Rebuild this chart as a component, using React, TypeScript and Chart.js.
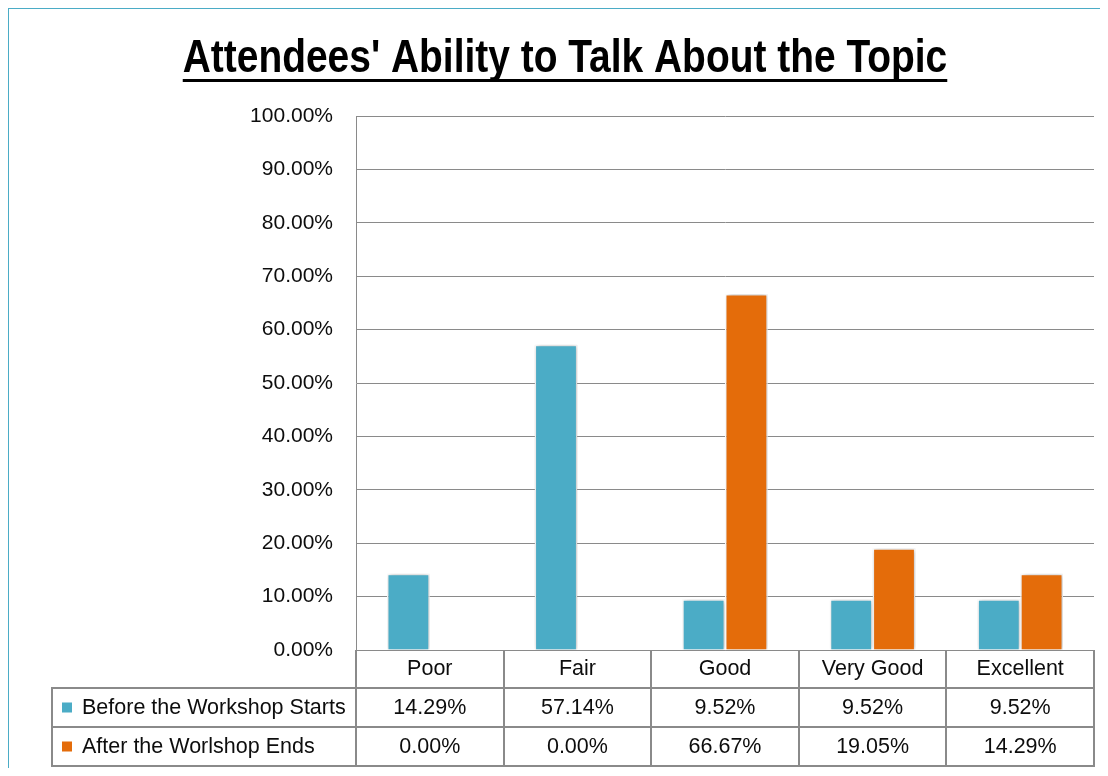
import React, { useEffect, useRef } from 'react';
import { Chart, registerables } from 'chart.js';

Chart.register(...registerables);

const TITLE = "Attendees' Ability to Talk About the Topic";
const categories = ['Poor', 'Fair', 'Good', 'Very Good', 'Excellent'];
const seriesNames = ['Before the Workshop Starts', 'After the Worlshop Ends'];
const beforeValues = [14.29, 57.14, 9.52, 9.52, 9.52];
const afterValues = [0, 0, 66.67, 19.05, 14.29];
const seriesColors = ['#4BACC6', '#E46C0A'];
const yMin = 0;
const yMax = 100;
const yStep = 10;

const FONT = "'Liberation Sans', Arial, Helvetica, sans-serif";
const GRID = '#8a8a8a';
const TEXT = '#0d0d0d';
const fmt = (v: number) => v.toFixed(2) + '%';

// Title: tall, horizontally condensed bold text with an underline
const titlePlugin = {
  id: 'condensedTitle',
  afterDraw(chart: any) {
    const ctx = chart.ctx;
    const sx = 0.828;
    const cx = 557;
    const baseline = 64;
    ctx.save();
    ctx.font = `bold 47px ${FONT}`;
    ctx.fillStyle = '#000';
    ctx.textAlign = 'center';
    ctx.textBaseline = 'alphabetic';
    const w = ctx.measureText(TITLE).width * sx;
    ctx.translate(cx, baseline);
    ctx.scale(sx, 1);
    ctx.fillText(TITLE, 0, 0);
    ctx.restore();
    ctx.save();
    ctx.fillStyle = '#000';
    ctx.fillRect(cx - w / 2, baseline + 7, w, 3);
    ctx.restore();
  },
};

const shadowPlugin = {
  id: 'barShadow',
  beforeDatasetsDraw(chart: any) {
    const c = chart.ctx;
    c.save();
    c.shadowColor = 'rgba(0,0,0,0.28)';
    c.shadowBlur = 5;
    c.shadowOffsetX = 1;
    c.shadowOffsetY = 0;
  },
  afterDatasetsDraw(chart: any) {
    chart.ctx.restore();
  },
};

const tablePlugin = {
  id: 'dataTable',
  afterDraw(chart: any) {
    const { ctx, chartArea } = chart;
    const x = chart.scales.x;
    const n = categories.length;
    const catW = (x.right - x.left) / n;
    const top = chartArea.bottom;
    const hdr = top + 38;
    const r1 = hdr + 39;
    const r2 = r1 + 39;
    const tableLeft = 44;
    const rows = [beforeValues, afterValues];
    const rowTops = [hdr, r1];
    ctx.save();
    ctx.strokeStyle = GRID;
    ctx.lineWidth = 2;
    const line = (x1: number, y1: number, x2: number, y2: number) => {
      ctx.beginPath();
      ctx.moveTo(x1, y1);
      ctx.lineTo(x2, y2);
      ctx.stroke();
    };
    line(tableLeft, hdr, x.right + 1, hdr);
    line(tableLeft, r1, x.right + 1, r1);
    line(tableLeft, r2, x.right + 1, r2);
    line(tableLeft, hdr - 1, tableLeft, r2 + 1);
    for (let i = 0; i <= n; i++) {
      const bx = Math.round(x.left + i * catW);
      line(bx, top, bx, r2 + 1);
    }
    ctx.font = `21.5px ${FONT}`;
    ctx.textBaseline = 'middle';
    rows.forEach((vals, r) => {
      const cy = rowTops[r] + 19.5;
      ctx.fillStyle = seriesColors[r];
      ctx.fillRect(tableLeft + 10, cy - 5, 10, 10);
      ctx.fillStyle = TEXT;
      ctx.textAlign = 'left';
      ctx.fillText(seriesNames[r], tableLeft + 30, cy + 1);
      ctx.textAlign = 'center';
      vals.forEach((v, i) => {
        ctx.fillText(fmt(v), x.getPixelForValue(i), cy + 1);
      });
    });
    ctx.restore();
  },
};

export default function App() {
  const ref = useRef<HTMLCanvasElement | null>(null);

  useEffect(() => {
    if (!ref.current) return;
    const chart = new Chart(ref.current, {
      type: 'bar',
      data: {
        labels: categories,
        datasets: [
          {
            label: seriesNames[0],
            data: beforeValues,
            backgroundColor: seriesColors[0],
            borderColor: '#ffffff',
            borderWidth: 1.5,
            barPercentage: 1,
            categoryPercentage: 0.58,
          },
          {
            label: seriesNames[1],
            data: afterValues,
            backgroundColor: seriesColors[1],
            borderColor: '#ffffff',
            borderWidth: 1.5,
            barPercentage: 1,
            categoryPercentage: 0.58,
          },
        ],
      },
      options: {
        responsive: false,
        animation: false,
        layout: { padding: { left: 28, right: 6, top: 108, bottom: 0 } },
        plugins: {
          legend: { display: false },
          tooltip: { enabled: false },
          title: { display: false, text: TITLE },
        },
        scales: {
          x: {
            grid: { display: false, drawTicks: false },
            border: { display: true, color: GRID, width: 1 },
            ticks: { color: TEXT, font: { family: FONT, size: 21.5 }, padding: 6 },
            afterFit(scale: any) {
              scale.height = 118;
            },
          },
          y: {
            min: yMin,
            max: yMax,
            grid: { color: GRID, lineWidth: 1, drawTicks: false },
            border: { display: true, color: GRID, width: 1 },
            ticks: {
              stepSize: yStep,
              color: TEXT,
              font: { family: FONT, size: 21 },
              padding: 23,
              callback: (v: any) => fmt(Number(v)),
            },
            afterFit(scale: any) {
              scale.width = 320;
            },
          },
        },
      },
      plugins: [shadowPlugin, tablePlugin, titlePlugin],
    });
    return () => chart.destroy();
  }, []);

  return (
    <div style={{ position: 'relative', width: 1092, height: 760 }}>
      <canvas ref={ref} width={1092} height={760} style={{ display: 'block' }} />
      <div
        style={{
          position: 'absolute',
          top: -1,
          left: -1,
          right: 0,
          bottom: 0,
          borderTop: '2px solid #4BACC6',
          borderLeft: '2px solid #4BACC6',
          pointerEvents: 'none',
        }}
      />
    </div>
  );
}
